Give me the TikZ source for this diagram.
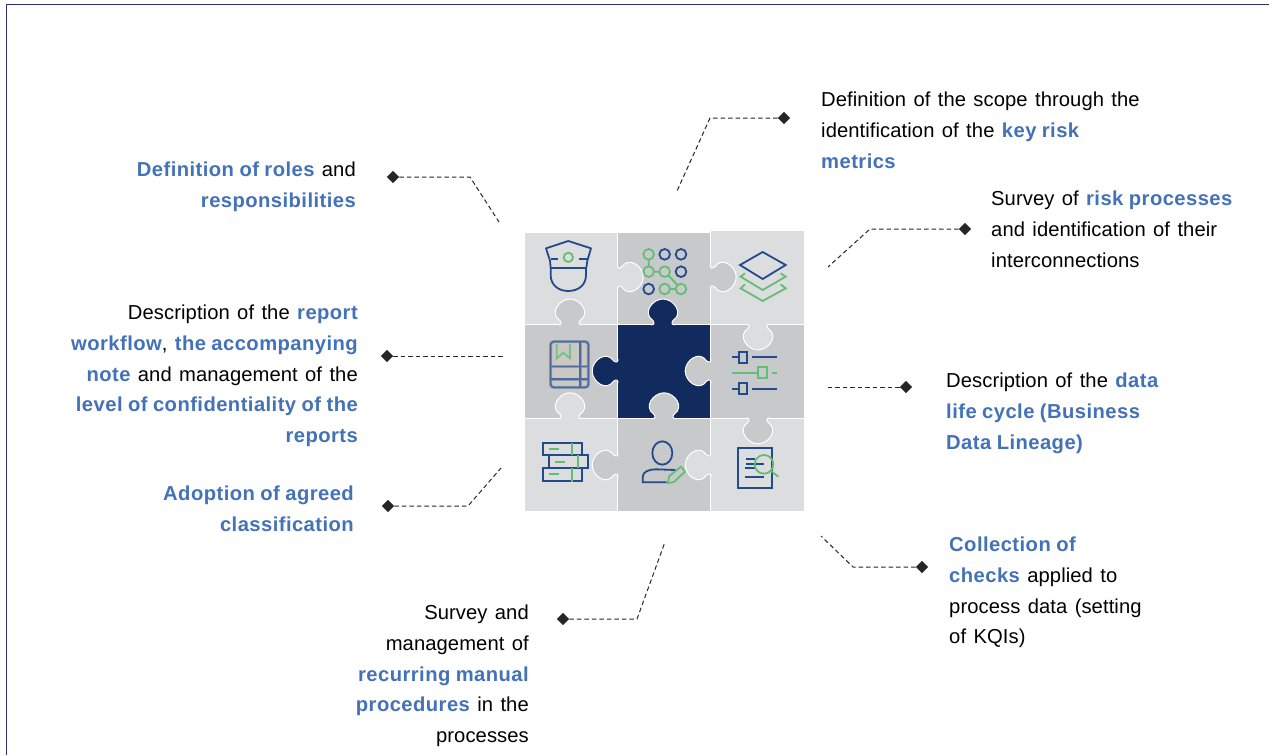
\documentclass[tikz,border=0pt]{standalone}
\usepackage{fontspec}
\setmainfont[WordSpace=1.3,LetterSpace=0.4,BoldFeatures={LetterSpace=2.2,WordSpace=0.9}]{Liberation Sans}
\usetikzlibrary{shapes.geometric}
\definecolor{lightp}{HTML}{DCDDDF}
\definecolor{midp}{HTML}{C8C9CB}
\definecolor{navyp}{HTML}{122B5E}
\definecolor{iconb}{HTML}{234A8C}
\definecolor{icong}{HTML}{62BE74}
\definecolor{hl}{HTML}{4472B8}
\definecolor{framec}{HTML}{2B2F7F}
\definecolor{bookbg}{HTML}{CBC7C5}
\newcommand{\hi}[1]{\textcolor{hl}{\bfseries #1}}
\newcommand{\cellp}[5]{\fill[#5,draw=white,line width=1.1pt] (#1,#2) rectangle (#3,#4);}
\newcommand{\knobp}[4]{%
  \begin{scope}[shift={(#1,#2)},rotate=#3]
    \fill[#4] (-12,0.8) .. controls (-9,0.8) and (-8,-1) .. (-10,-4) .. controls (-21,-11) and (-11,-25.5) .. (0,-25.5) .. controls (11,-25.5) and (21,-11) .. (10,-4) .. controls (8,-1) and (9,0.8) .. (12,0.8) -- cycle;
    \draw[white,line width=1pt] (-12,0.3) .. controls (-9,0.3) and (-8,-1) .. (-10,-4) .. controls (-21,-11) and (-11,-25.5) .. (0,-25.5) .. controls (11,-25.5) and (21,-11) .. (10,-4) .. controls (8,-1) and (9,0.3) .. (12,0.3);
  \end{scope}}
\tikzset{
  x=1pt,y=-1pt,
  txt/.style={inner sep=0pt,font=\fontsize{20.2}{30.7}\selectfont,text=black},
  txtl/.style={txt,anchor=north west,align=left},
  txtr/.style={txt,anchor=north east,align=right},
  mark d/.style={diamond,fill=black!85,inner sep=0pt,minimum size=12.5pt},
  lead/.style={dash pattern=on 4.5pt off 3pt,line width=1pt,black!85},
  bl/.style={iconb,line width=1.8pt},
  gr/.style={icong,line width=1.8pt},
}
\begin{document}
\begin{tikzpicture}
\useasboundingbox (0,0) rectangle (1269,755);
\fill[white] (0,0) rectangle (1269,755);
\draw[framec,line width=1.6pt] (6.5,755) -- (6.5,4.5) -- (1269,4.5);

% puzzle cells
\cellp{524}{232}{617.7}{324.5}{lightp}
\cellp{617.7}{232}{710.7}{324.5}{midp}
\cellp{710.7}{230}{804.7}{324.5}{lightp}
\cellp{524}{324.5}{617.7}{418.3}{midp}
\cellp{617.7}{324.5}{710.7}{418.3}{navyp}
\cellp{710.7}{324.5}{804.7}{418.3}{midp}
\cellp{524}{418.3}{617.7}{512}{lightp}
\cellp{617.7}{418.3}{710.7}{512}{midp}
\cellp{710.7}{418.3}{804.7}{512}{lightp}
% knobs
\knobp{617.7}{277}{270}{lightp}
\knobp{710.7}{277}{270}{midp}
\knobp{570}{324.5}{0}{midp}
\knobp{663}{324.5}{0}{navyp}
\knobp{758}{324.5}{180}{lightp}
\knobp{617.7}{371}{90}{navyp}
\knobp{710.7}{371}{90}{midp}
\knobp{570}{418.3}{0}{lightp}
\knobp{664}{418.3}{0}{midp}
\knobp{758}{418.3}{180}{midp}
\knobp{617.7}{465}{90}{midp}
\knobp{710.7}{465}{90}{lightp}

% icons, top half
\begin{scope}[shift={(510,220)},scale=1/3]
  \draw[bl,line join=round] (122,143) -- (120,122) -- (108,85) -- (175,63) -- (243,85) -- (232,122) -- (229,143);
  \draw[bl] (120,143) -- (232,143);
  \draw[bl] (122,118) -- (145,118) (207,118) -- (230,118);
  \draw[bl] (122,143) -- (122,165) .. controls (122,195) and (145,213) .. (175,213) .. controls (205,213) and (228,195) .. (228,165) -- (228,143);
  \draw[gr] (175,112) circle (14);
  % network
  \foreach \a/\b in {416/103,416/155,464/155,464/207,513/207} \draw[gr] (\a,\b) circle (16);
  \foreach \a/\b in {464/103,513/103,513/155,416/207} \draw[bl] (\a,\b) circle (16);
  \draw[gr] (416,119) -- (416,139) (432,155) -- (448,155) (476,167) -- (502,195) (480,207) -- (497,207);
  % layers
  \draw[bl] (690,135) -- (758,96) -- (827,135) -- (758,177) -- cycle;
  \draw[gr] (705,160) -- (692,170) -- (758,210) -- (827,170) -- (812,160);
  \draw[gr] (705,193) -- (692,205) -- (758,243) -- (827,205) -- (812,193);
  % slider row 1
  \draw[bl] (666,410) -- (688,410) (727,410) -- (800,410);
  \draw[bl] (688,395) rectangle (710,430);
\end{scope}
% icons, bottom half
\begin{scope}[shift={(510,370)},scale=1/3]
  \draw[gr] (666,8) -- (745,8) (785,8) -- (800,8);
  \draw[gr] (745,-10) rectangle (770,25);
  \draw[bl] (666,56) -- (688,56) (727,56) -- (800,56);
  \draw[bl] (688,38) rectangle (710,73);
  % books
  \draw[bl] (98,218) rectangle (216,256);
  \draw[bl] (116,256) rectangle (234,294);
  \draw[bl] (98,294) rectangle (216,332);
  \draw[gr] (118,237) -- (147,237) (135,275) -- (164,275) (118,312) -- (147,312);
  \draw[gr] (186,220) -- (186,256) (204,256) -- (204,294) (186,294) -- (186,335);
  % person
  \draw[bl] (457,249) ellipse (30 and 35);
  \draw[bl] (470,337) -- (398,337) -- (398,322) .. controls (398,305) and (415,298) .. (440,298) -- (497,300);
  \draw[gr,line join=round] (473,340) -- (478,318) -- (513,290) -- (525,305) -- (493,335) -- cycle;
  % document
  \draw[bl] (684,233) rectangle (787,355);
  \draw[bl] (708,267) -- (735,267) (708,282) -- (762,282) (705,294) -- (735,294) (705,320) -- (762,320);
  \draw[gr] (762,283) circle (28);
  \draw[gr] (783,303) -- (805,320);
\end{scope}

% left book icon (blurred in the source)
\begin{scope}[shift={(535,330)},scale=1/3]
  \fill[bookbg] (30,30) rectangle (172,172);
  \draw[iconb!35!midp,line width=3pt,rounded corners=3pt] (47,35) rectangle (160,172);
  \draw[iconb!35!midp,line width=3pt] (47,110) -- (160,110) (47,147) -- (160,147) (135,35) -- (135,172);
  \draw[iconb!75!midp,line width=1.5pt,rounded corners=3pt] (47,35) rectangle (160,172);
  \draw[iconb!75!midp,line width=1.5pt] (47,110) -- (160,110) (47,147) -- (160,147) (135,35) -- (135,172);
  \draw[icong!80!midp,line width=1.8pt] (65,42) -- (65,85) -- (85,68) -- (105,85) -- (105,42);
\end{scope}

% labels
\node[txtr] (roles) at (356,162) {\hi{Definition of roles} and\\\hi{responsibilities}};
\node[txtr] (workflow) at (358,305) {Description of the \hi{report}\\\hi{workflow}, \hi{the accompanying}\\\hi{note} and management of the\\\hi{level of confidentiality of the}\\\hi{reports}};
\node[txtr] (classif) at (354,486) {\hi{Adoption of agreed}\\\hi{classification}};
\node[txtr] (manual) at (529,605) {Survey and\\management of\\\hi{recurring manual}\\\hi{procedures} in the\\processes};
\node[txtl] (scope) at (821,92) {Definition of the scope through the\\identification of the \hi{key risk}\\\hi{metrics}};
\node[txtl] (survey) at (991,191) {Survey of \hi{risk processes}\\and identification of their\\interconnections};
\node[txtl] (cycle) at (946,373) {Description of the \hi{data}\\\hi{life cycle (Business}\\\hi{Data Lineage)}};
\node[txtl] (checks) at (949,537) {\hi{Collection of}\\\hi{checks} applied to\\process data (setting\\of KQIs)};

% markers and leaders
\node[mark d] (d1) at (393,177) {};
\node[mark d] (d2) at (784,118) {};
\node[mark d] (d3) at (965,229) {};
\node[mark d] (d4) at (906,387) {};
\node[mark d] (d5) at (922,567) {};
\node[mark d] (d6) at (563,619) {};
\node[mark d] (d7) at (388,506) {};
\node[mark d] (d8) at (387,356) {};
\coordinate (e1) at (499,222);
\coordinate (e2) at (677,191);
\coordinate (e3) at (828,267);
\coordinate (e4) at (825,387);
\coordinate (e5) at (821,536);
\coordinate (e6) at (665,542);
\coordinate (e7) at (501,468);
\coordinate (e8) at (503,356);
\draw[lead] (d1) -- (470,177) -- (e1);
\draw[lead] (d2) -- (710,118) -- (e2);
\draw[lead] (d3) -- (870,229) -- (e3);
\draw[lead] (d4) -- (e4);
\draw[lead] (d5) -- (853,567) -- (e5);
\draw[lead] (d6) -- (637,619) -- (e6);
\draw[lead] (d7) -- (468,506) -- (e7);
\draw[lead] (d8) -- (e8);
\end{tikzpicture}
\end{document}
